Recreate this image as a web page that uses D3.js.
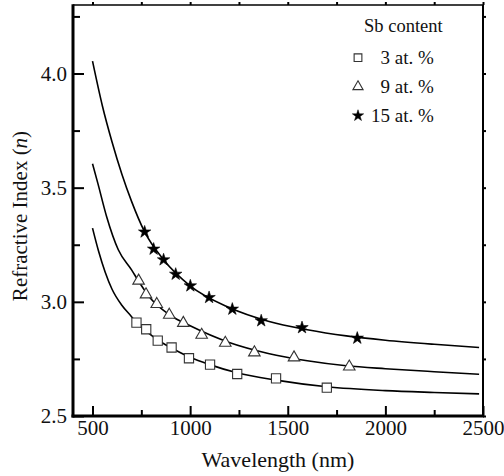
<!DOCTYPE html>
<html>
<head>
<meta charset="utf-8">
<script src="https://cdn.jsdelivr.net/npm/d3@7"></script>
<style>
  body { margin: 0; background: #fff; }
  svg { display: block; }
  svg text { font-family: "Liberation Serif", "Times New Roman", serif; fill: #111; }
  .tick text { font-size: 21px; }
</style>
</head>
<body>
<svg id="chart" width="504" height="476"></svg>
<script>
// measured points (wavelength nm, refractive index)
const sb3 = [[725, 2.909], [775, 2.88], [834, 2.83], [905, 2.80], [994, 2.753], [1102, 2.725], [1241, 2.684], [1440, 2.665], [1700, 2.624]];
const sb9 = [[736, 3.092], [774, 3.032], [829, 2.99], [893, 2.943], [965, 2.907], [1059, 2.855], [1180, 2.82], [1329, 2.778], [1532, 2.756], [1815, 2.716]];
const sb15 = [[767, 3.306], [813, 3.231], [864, 3.184], [926, 3.121], [1001, 3.07], [1097, 3.019], [1216, 2.968], [1364, 2.917], [1573, 2.887], [1856, 2.841]];

// fitted curves
const fit3 = [[500, 3.323], [530, 3.225], [565, 3.13], [600, 3.055], [650, 2.985], [700, 2.935], [725, 2.909], [775, 2.872], [834, 2.833], [900, 2.80], [1000, 2.757], [1100, 2.725], [1240, 2.689], [1440, 2.657], [1700, 2.628], [2000, 2.611], [2250, 2.603], [2480, 2.597]];
const fit9 = [[500, 3.605], [527, 3.52], [572, 3.374], [632, 3.228], [700, 3.14], [736, 3.09], [800, 3.012], [900, 2.94], [1000, 2.895], [1200, 2.822], [1400, 2.774], [1600, 2.742], [1800, 2.72], [2000, 2.707], [2250, 2.694], [2480, 2.683]];
const fit15 = [[500, 4.054], [550, 3.86], [600, 3.70], [650, 3.56], [700, 3.44], [767, 3.306], [864, 3.184], [1000, 3.07], [1200, 2.975], [1400, 2.915], [1600, 2.878], [1800, 2.851], [2000, 2.832], [2250, 2.814], [2480, 2.80]];

const xMajor = [500, 1000, 1500, 2000, 2500];
const xMinor = [750, 1250, 1750, 2250];
const yMajor = [2.5, 3.0, 3.5, 4.0];
const yMinor = [2.75, 3.25, 3.75, 4.25];

const legendLabels = ["\u20073 at. %", "\u20079 at. %", "15 at. %"];

const margin = { top: 5, right: 21, bottom: 60, left: 73 };
const width = 504 - margin.left - margin.right;
const height = 476 - margin.top - margin.bottom;

const svg = d3.select("#chart");
const g = svg.append("g").attr("transform", "translate(" + margin.left + "," + margin.top + ")");

const x = d3.scaleLinear().domain([400, 2500]).range([0, width]);
const y = d3.scaleLinear().domain([2.5, 4.3]).range([height, 0]);

// bottom axis, ticks pointing in
g.append("g").attr("transform", "translate(0," + height + ")")
    .call(d3.axisBottom(x).tickValues(xMajor).tickSize(-10).tickPadding(4).tickFormat(d3.format("d")));
g.append("g").attr("transform", "translate(0," + height + ")")
    .call(d3.axisBottom(x).tickValues(xMinor).tickSize(-6).tickFormat(""));

g.append("g")
    .call(d3.axisLeft(y).tickValues(yMajor).tickSize(-11).tickPadding(6).tickFormat(d3.format(".1f")));
g.append("g")
    .call(d3.axisLeft(y).tickValues(yMinor).tickSize(-7).tickFormat(""));

// small mirrored ticks on top and right
g.append("g").call(d3.axisTop(x).tickValues(xMajor.concat(xMinor)).tickSize(3).tickFormat(""));
g.append("g").attr("transform", "translate(" + width + ",0)")
    .call(d3.axisRight(y).tickValues(yMajor.concat(yMinor)).tickSize(3).tickFormat(""));

g.selectAll(".domain").remove();
g.selectAll(".tick line").attr("stroke", "#000").attr("stroke-width", 2);

// frame
g.append("line").attr("x1", 0).attr("x2", width).attr("y1", 0).attr("y2", 0).attr("stroke", "#000").attr("stroke-width", 1.5);
g.append("line").attr("x1", width).attr("x2", width).attr("y1", 0).attr("y2", height).attr("stroke", "#000").attr("stroke-width", 2);
g.append("line").attr("x1", 0).attr("x2", 0).attr("y1", -0.75).attr("y2", height + 1.5).attr("stroke", "#000").attr("stroke-width", 3);
g.append("line").attr("x1", -1.5).attr("x2", width + 1).attr("y1", height).attr("y2", height).attr("stroke", "#000").attr("stroke-width", 3);

// fit lines
const line = d3.line().x(d => x(d[0])).y(d => y(d[1])).curve(d3.curveMonotoneX);
[fit3, fit9, fit15].forEach(f => {
    g.append("path").datum(f).attr("d", line)
        .attr("fill", "none").attr("stroke", "#000").attr("stroke-width", 1.6);
});

// markers
const sq = d3.symbol().type(d3.symbolSquare).size(85);
const tri = d3.symbol().type(d3.symbolTriangle).size(58);
const star = d3.symbol().type(d3.symbolStar).size(48);

g.selectAll(".sq").data(sb3).enter().append("path")
    .attr("class", "sq").attr("d", sq)
    .attr("transform", d => "translate(" + x(d[0]) + "," + y(d[1]) + ")")
    .attr("fill", "#fff").attr("stroke", "#333").attr("stroke-width", 1.1);

g.selectAll(".tri").data(sb9).enter().append("path")
    .attr("class", "tri").attr("d", tri)
    .attr("transform", d => "translate(" + x(d[0]) + "," + y(d[1]) + ")")
    .attr("fill", "#fff").attr("stroke", "#333").attr("stroke-width", 1.1);

g.selectAll(".star").data(sb15).enter().append("path")
    .attr("class", "star").attr("d", star)
    .attr("transform", d => "translate(" + x(d[0]) + "," + y(d[1]) + ")")
    .attr("fill", "#000").attr("stroke", "#000").attr("stroke-width", 0.6);

// axis titles
svg.append("text").attr("x", 278).attr("y", 467).attr("text-anchor", "middle")
    .style("font-size", "22px").text("Wavelength (nm)");

const yt = svg.append("text").attr("transform", "translate(27,216)rotate(-90)")
    .attr("text-anchor", "middle").style("font-size", "21px");
yt.append("tspan").text("Refractive Index (");
yt.append("tspan").style("font-style", "italic").text("n");
yt.append("tspan").text(")");

// legend
const leg = svg.append("g");
leg.append("text").attr("x", 364).attr("y", 32).style("font-size", "18.5px").text("Sb content");
const legSyms = [
    d3.symbol().type(d3.symbolSquare).size(60)(),
    d3.symbol().type(d3.symbolTriangle).size(45)(),
    d3.symbol().type(d3.symbolStar).size(40)()
];
const legFill = ["#fff", "#fff", "#000"];
legendLabels.forEach((t, i) => {
    const cy = 57.7 + i * 29;
    leg.append("path").attr("d", legSyms[i])
        .attr("transform", "translate(358," + cy + ")")
        .attr("fill", legFill[i]).attr("stroke", i == 2 ? "#000" : "#333").attr("stroke-width", i == 2 ? 0.5 : 1.1);
    leg.append("text").attr("x", 371).attr("y", cy + 6.5).style("font-size", "19px").text(t);
});
</script>
</body>
</html>
